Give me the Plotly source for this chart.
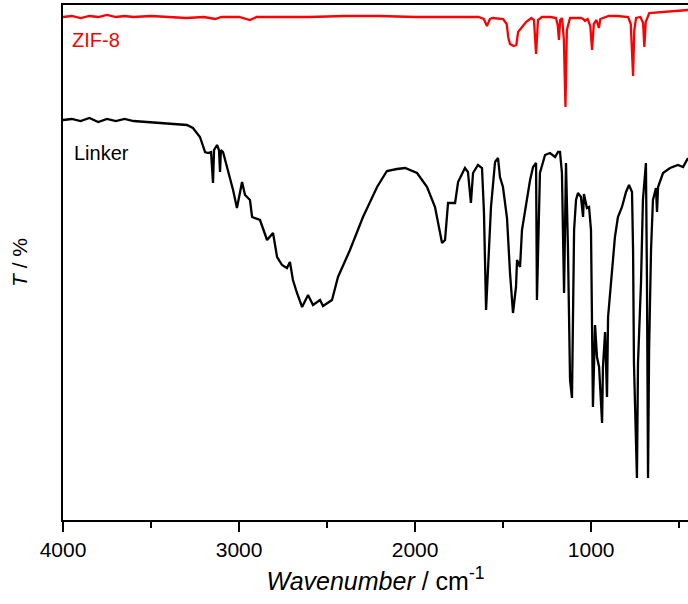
import plotly.graph_objects as go

# IR spectra (wavenumber in cm-1, T in arbitrary units)

zif8_wn = [4000, 3950, 3900, 3850, 3800, 3750, 3700, 3650, 3600, 3500, 3400, 3300, 3200,
           3135, 3100, 3000, 2938, 2900, 2800, 2600, 2400, 2200, 2000, 1800, 1700, 1640,
           1610, 1592, 1575, 1560, 1500, 1480, 1470, 1461, 1440, 1425, 1415, 1400, 1390,
           1370, 1340, 1325, 1313, 1302, 1280, 1230, 1200, 1190, 1183, 1176, 1165, 1155,
           1146, 1138, 1120, 1090, 1060, 1045, 1035, 1020, 1005, 995, 985, 970, 956, 948,
           900, 850, 790, 775, 768, 762, 755, 745, 720, 705, 698, 690, 670, 600, 550, 500, 450]
zif8_t = [503, 504, 502, 504, 503, 505, 503, 504, 503, 504, 503, 502, 503,
          501, 503, 503, 500, 503, 503, 503, 504, 504, 503, 503, 503, 503,
          501, 494, 501, 502, 501, 496, 482, 476, 474, 475, 488, 491, 493,
          498, 502, 500, 466, 500, 503, 503, 502, 495, 480, 500, 502, 480,
          413, 490, 502, 502, 502, 501, 499, 501, 494, 470, 496, 500, 492, 501,
          504, 504, 503, 496, 470, 444, 490, 502, 503, 497, 473, 498, 507, 508, 509, 509, 510]

linker_wn = [4000, 3950, 3900, 3850, 3800, 3750, 3700, 3650, 3600, 3449, 3296, 3262, 3222,
             3193, 3176, 3159, 3148, 3142, 3125, 3114, 3108, 3103, 3091, 3034, 3012, 2983,
             2966, 2938, 2926, 2881, 2841, 2807, 2784, 2756, 2728, 2711, 2694, 2671, 2642,
             2608, 2580, 2540, 2523, 2472, 2438, 2370, 2296, 2216, 2160, 2103, 2057, 1989,
             1932, 1887, 1847, 1830, 1813, 1790, 1773, 1756, 1745, 1717, 1700, 1683, 1671,
             1643, 1620, 1609, 1597, 1586, 1569, 1546, 1529, 1518, 1501, 1478, 1461, 1444,
             1427, 1421, 1404, 1393, 1376, 1364, 1347, 1330, 1313, 1308, 1291, 1262, 1234,
             1205, 1188, 1177, 1166, 1154, 1143, 1132, 1120, 1109, 1103, 1097, 1086, 1075,
             1058, 1046, 1041, 1024, 1012, 1001, 990, 978, 967, 955, 938, 933, 921, 910,
             904, 882, 865, 848, 825, 802, 785, 768, 762, 757, 751, 740, 734, 717, 706,
             689, 683, 677, 671, 660, 649, 632, 626, 620, 592, 552, 507, 478, 450]
linker_t = [400, 401, 399, 402, 398, 401, 399, 401, 399, 397, 395, 392, 383,
            368, 367, 368, 337, 370, 375, 370, 348, 370, 368, 330, 312, 338,
            325, 320, 303, 300, 280, 287, 263, 255, 252, 258, 240, 227, 213,
            225, 215, 220, 214, 220, 243, 270, 303, 333, 349, 351, 352, 347,
            333, 313, 277, 280, 317, 317, 317, 338, 342, 352, 348, 317, 347,
            355, 352, 308, 210, 253, 313, 358, 362, 343, 333, 302, 247, 207,
            233, 260, 253, 290, 310, 323, 340, 353, 357, 220, 347, 365, 367,
            363, 368, 368, 347, 227, 357, 273, 140, 122, 203, 290, 320, 327,
            323, 303, 326, 312, 313, 290, 113, 195, 163, 153, 97, 153, 188, 123,
            203, 247, 283, 303, 313, 328, 335, 328, 270, 157, 110, 42, 157, 237, 320,
            357, 237, 42, 170, 270, 320, 332, 308, 333, 347, 352, 355, 353, 362]

FONT = "Arial, Liberation Sans, sans-serif"

fig = go.Figure()

fig.add_trace(go.Scatter(
    x=zif8_wn, y=zif8_t, mode='lines', name='ZIF-8',
    line=dict(color='#ff0000', width=2.3)
))

fig.add_trace(go.Scatter(
    x=linker_wn, y=linker_t, mode='lines', name='Linker',
    line=dict(color='#000000', width=2.3)
))

fig.add_annotation(text='ZIF-8', x=0.011, y=0.932, xref='paper', yref='paper',
                   xanchor='left', yanchor='middle', showarrow=False,
                   font=dict(family=FONT, size=20, color='#ff0000'))
fig.add_annotation(text='Linker', x=0.0144, y=0.7126, xref='paper', yref='paper',
                   xanchor='left', yanchor='middle', showarrow=False,
                   font=dict(family=FONT, size=20, color='#000000'))

fig.update_layout(
    width=688, height=604,
    margin=dict(l=63, r=0, t=5, b=84),
    paper_bgcolor='white', plot_bgcolor='white',
    showlegend=False,
    font=dict(family=FONT, color='#000000'),
    xaxis=dict(
        range=[4000, 450], tick0=0, dtick=1000,
        ticks='outside', ticklen=10, tickwidth=1.5, tickcolor='black',
        minor=dict(dtick=500, ticks='outside', ticklen=6, tickwidth=1.5, tickcolor='black'),
        showline=True, linecolor='black', linewidth=1.8, mirror=True,
        showgrid=False, zeroline=False,
        tickfont=dict(size=21),
        title=dict(text='<i>Wavenumber</i> / cm<sup>-1</sup>', font=dict(size=25), standoff=12),
    ),
    yaxis=dict(
        range=[0, 515], showticklabels=False, ticks='',
        showline=True, linecolor='black', linewidth=1.8, mirror=False,
        showgrid=False, zeroline=False,
        title=dict(text='<i>T</i> / %', font=dict(size=21), standoff=28),
    ),
)

# drop the browser's default page margin so the figure sits at the window origin
fig.write_html("out.html", config={'displayModeBar': False},
               post_script="document.body.style.margin='0';")
